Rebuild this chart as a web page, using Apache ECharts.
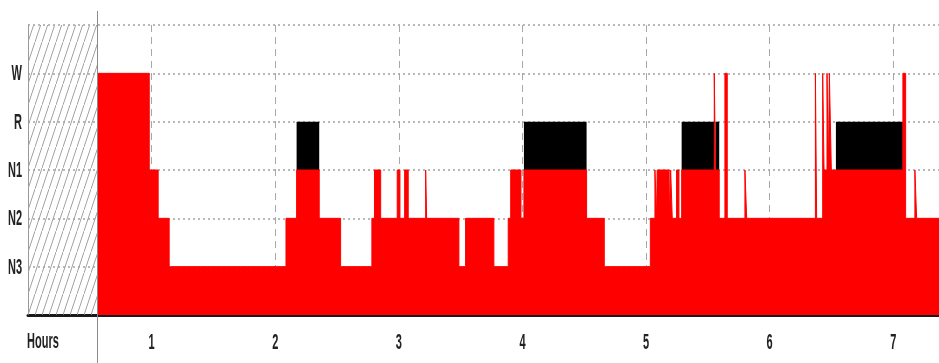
<!DOCTYPE html>
<html>
<head>
<meta charset="utf-8">
<script src="https://cdn.jsdelivr.net/npm/echarts@6/dist/echarts.min.js"></script>
<style>
  html, body { margin: 0; padding: 0; background: #fff; }
  #chart { width: 939px; height: 363px; }
</style>
</head>
<body>
<div id="chart"></div>
<script>
// Sleep stages, bottom to top (levels 1..5); level 0 is the baseline, 6 the top rule
const stageLabels = ['', 'N3', 'N2', 'N1', 'R', 'W', ''];
const hourLabels = ['1', '2', '3', '4', '5', '6', '7'];
const hourAxisTitle = 'Hours';

// Hypnogram: each stage holds from segStart[i] (hours) until the next start
const segStart = [0.561, 0.981, 1.053, 1.142, 2.087, 2.173, 2.356, 2.529, 2.782, 2.803,
  2.853, 2.987, 3.009, 3.047, 3.076, 3.217, 3.225, 3.486, 3.540, 3.769,
  3.885, 3.905, 3.988, 4.012, 4.519, 4.662, 5.035, 5.072, 5.085, 5.090,
  5.187, 5.199, 5.212, 5.247, 5.266, 5.288, 5.552, 5.561, 5.592, 5.638,
  5.657, 5.800, 5.814, 6.370, 6.380, 6.429, 6.440, 6.464, 6.475, 6.483,
  6.499, 6.536, 7.078, 7.100, 7.175, 7.189];
const segStage = ['W', 'N1', 'N2', 'N3', 'N2', 'R', 'N2', 'N3', 'N2', 'N1',
  'N2', 'N1', 'N2', 'N1', 'N2', 'N1', 'N2', 'N3', 'N2', 'N3',
  'N2', 'N1', 'N2', 'R', 'N2', 'N3', 'N2', 'N1', 'N2', 'N1',
  'N2', 'N1', 'N2', 'N1', 'N2', 'R', 'W', 'R', 'N2', 'W',
  'N2', 'N1', 'N2', 'W', 'N2', 'W', 'N1', 'W', 'N1', 'W',
  'N1', 'R', 'W', 'N2', 'N1', 'N2'];
const recordEnd = 7.37;   // end of the recording, hours
const lightsOff = 0;      // start of the time axis (hatched, not recorded)

const levelOf = s => stageLabels.indexOf(s);

// Red area: REM epochs are filled up to N1, the black band sits on top
const redPoints = segStart.map((t, i) => [t, segStage[i] === 'R' ? levelOf('N1') : levelOf(segStage[i])]);
redPoints.push([recordEnd, redPoints[redPoints.length - 1][1]]);

const remSpans = [];
segStart.forEach((t, i) => {
  if (segStage[i] === 'R') {
    const end = i + 1 < segStart.length ? segStart[i + 1] : recordEnd;
    remSpans.push([t, end]);
  }
});

// Diagonal hatch for the unrecorded period
const hatch = document.createElement('canvas');
hatch.width = 7; hatch.height = 21;
(function () {
  const c = hatch.getContext('2d');
  c.strokeStyle = '#a2a2a2';
  c.lineWidth = 1;
  c.beginPath();
  c.moveTo(-7, 42); c.lineTo(14, -21);
  c.stroke();
})();

const FONT = '"Liberation Sans", Arial, sans-serif';
const LABEL_SIZE = 22;
const SQUEEZE = 0.5;   // narrow, tall lettering

const chart = echarts.init(document.getElementById('chart'), null, { renderer: 'canvas' });
chart.setOption({
  animation: false,
  backgroundColor: '#fff',
  grid: { left: 28, right: 0, top: 25, bottom: 48, outerBoundsMode: 'none', containLabel: false },
  xAxis: {
    type: 'value', min: lightsOff, max: recordEnd, interval: 1,
    axisLine: { show: true, lineStyle: { color: '#1a1a1a', width: 3 } },
    axisTick: { show: false },
    splitLine: { show: true, lineStyle: { color: '#a8a8a8', width: 1, type: [7, 5] } },
    axisLabel: { show: false }
  },
  yAxis: {
    type: 'value', min: 0, max: 6, interval: 1,
    axisLine: { show: true, lineStyle: { color: '#999', width: 1 } },
    axisTick: { show: false },
    splitLine: { show: true, lineStyle: { color: '#b9b9b9', width: 2, type: [2, 3] } },
    axisLabel: { show: false }
  },
  series: [
    {
      type: 'custom',
      name: 'REM',
      z: 2,
      data: remSpans,
      renderItem: (params, api) => {
        const p0 = api.coord([api.value(0), levelOf('R')]);
        const p1 = api.coord([api.value(1), levelOf('N1')]);
        return {
          type: 'rect',
          shape: { x: p0[0], y: p0[1], width: p1[0] - p0[0], height: p1[1] - p0[1] },
          style: { fill: '#000' }
        };
      },
      markArea: {
        silent: true,
        itemStyle: { color: { image: hatch, repeat: 'repeat' }, opacity: 1 },
        data: [[{ xAxis: lightsOff, yAxis: 0 }, { xAxis: segStart[0], yAxis: 6 }]]
      }
    },
    {
      type: 'line',
      name: 'stage',
      z: 3,
      step: 'end',
      symbol: 'none',
      data: redPoints,
      lineStyle: { color: '#ff0000', width: 1, join: 'bevel' },
      areaStyle: { color: '#ff0000', opacity: 1 }
    }
  ]
});

// Axis lettering placed on the axes' own pixel positions
const toPx = (x, y) => chart.convertToPixel({ gridIndex: 0 }, [x, y]);
const gridLeft = toPx(lightsOff, 0)[0];
const baseY = toPx(lightsOff, 0)[1];
const labelStyle = (text, align) => ({
  text, align, verticalAlign: 'middle',
  fontFamily: FONT, fontSize: LABEL_SIZE, fontWeight: 'bold', fill: '#222'
});
const graphics = [];
stageLabels.forEach((s, lvl) => {
  if (!s) return;
  graphics.push({
    type: 'text', z: 10, silent: true,
    x: gridLeft - 6, y: toPx(lightsOff, lvl)[1] + 1, scaleX: SQUEEZE,
    style: labelStyle(s, 'right')
  });
});
hourLabels.forEach((h, i) => {
  graphics.push({
    type: 'text', z: 10, silent: true,
    x: toPx(i + 1, 0)[0], y: baseY + 28, scaleX: SQUEEZE,
    style: labelStyle(h, 'center')
  });
});
graphics.push({
  type: 'text', z: 10, silent: true,
  x: gridLeft - 1, y: baseY + 27, scaleX: SQUEEZE,
  style: labelStyle(hourAxisTitle, 'left')
});
// Separator between the unrecorded period and the recording, full height
const sepX = Math.round(toPx(segStart[0], 0)[0]) + 0.5;
graphics.push({
  type: 'line', z: 10, silent: true,
  shape: { x1: sepX, y1: 11, x2: sepX, y2: 363 },
  style: { stroke: '#8a8a8a', lineWidth: 1 }
});
chart.setOption({ graphic: graphics });
</script>
</body>
</html>
